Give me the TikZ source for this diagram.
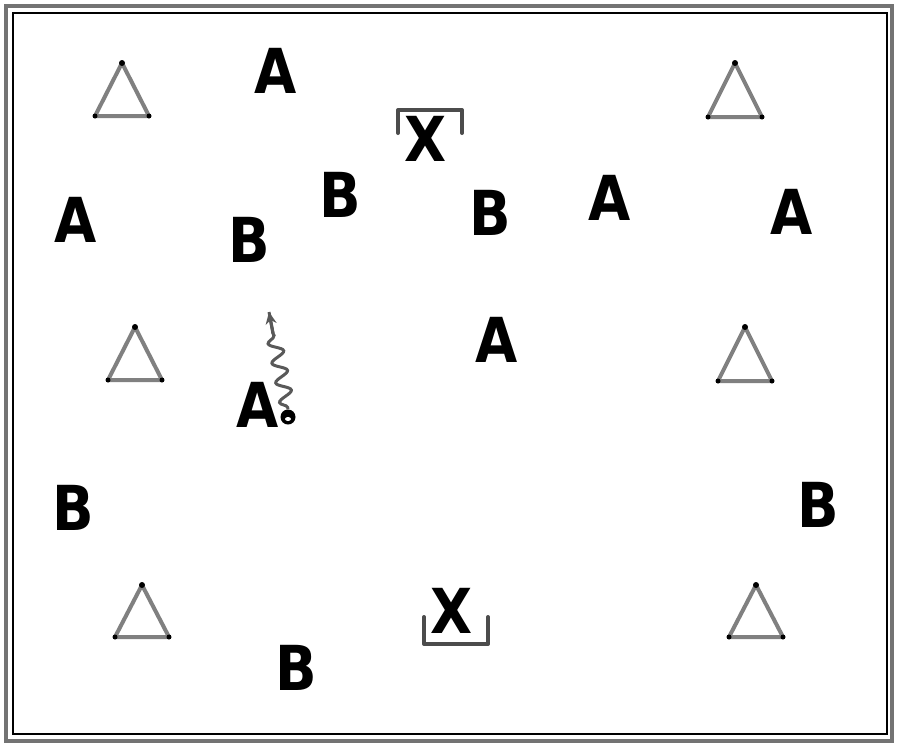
\documentclass[tikz,border=0pt]{standalone}
\usepackage{fontspec}
\setmainfont{DejaVu Sans}
\usetikzlibrary{decorations.pathmorphing,arrows.meta}
\tikzset{
  lettr/.style={font=\fontsize{62}{62}\selectfont\bfseries, inner sep=0pt, text=black, xscale=0.88},
  cone/.style={draw=black!50, line width=4pt, line join=round},
  conedot/.style={fill=black},
  goalline/.style={draw=black!70, line width=4pt, line cap=round, line join=round},
  squig/.style={draw=black!65, line width=3pt, decorate,
     decoration={snake, amplitude=7pt, segment length=20pt, pre length=2pt, post length=16pt}},
}
\begin{document}
\begin{tikzpicture}[x=1pt,y=-1pt]
\useasboundingbox (0,0) rectangle (900,750);
\fill[white] (0,0) rectangle (900,750);
% border
\draw[draw=black!55, line width=4pt] (6,6) rectangle (892,741);
\draw[black, line width=1.2pt] (13,13) rectangle (887,734);

% cones
\foreach \n/\x/\t/\b in {c1/122/63/116, c2/735/63/117, c3/135/327/380, c4/745/327/381, c5/142/585/637, c6/756/585/637}{
  \coordinate (\n a) at (\x,\t);
  \coordinate (\n l) at ({\x-27},\b);
  \coordinate (\n r) at ({\x+27},\b);
  \draw[cone] (\n a) -- (\n l) -- (\n r) -- cycle;
  \fill[conedot] (\n a) circle (3pt) (\n l) circle (2.5pt) (\n r) circle (2.5pt);
}

% letters
\node[lettr] (a1) at (276,71) {A};
\node[lettr] (a2) at (76,220) {A};
\node[lettr] (a3) at (610,198) {A};
\node[lettr] (a4) at (792,212) {A};
\node[lettr] (a5) at (497,340) {A};
\node[lettr] (a6) at (258,405) {A};
\node[lettr] (b1) at (340,195) {B};
\node[lettr] (b2) at (249,240) {B};
\node[lettr] (b3) at (490,213) {B};
\node[lettr] (b4) at (73,508) {B};
\node[lettr] (b5) at (818,505) {B};
\node[lettr] (b6) at (296,668) {B};

% goals
\node[lettr] (x1) at (426,139) {X};
\draw[goalline] (398,133) -- (398,110) -- (462,110) -- (462,133);
\node[lettr] (x2) at (452,611) {X};
\draw[goalline] (424,617) -- (424,644) -- (488,644) -- (488,617);

% ball and dribble
\node[circle, fill=black, minimum size=15pt, inner sep=0pt] (ball) at (288,417) {};
\fill[white] (288,419) ellipse (3pt and 2pt);
\coordinate (run) at (269,312);
\draw[squig] (ball.north) -- (run);
\draw[draw=black!65, line width=3pt, -{Stealth[length=12pt,width=11pt]}] (273,334) -- (run);
\end{tikzpicture}
\end{document}
